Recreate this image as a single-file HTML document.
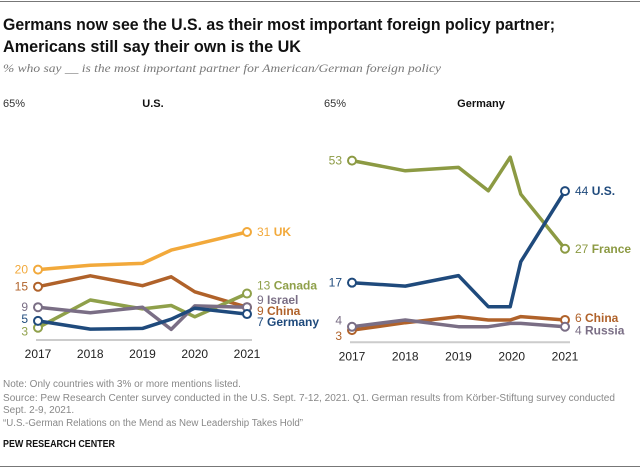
<!DOCTYPE html>
<html><head><meta charset="utf-8"><style>
html,body{margin:0;padding:0;background:#fff}
svg{display:block;font-family:"Liberation Sans",sans-serif}
</style></head><body>
<svg id="c" width="640" height="469" viewBox="0 0 640 469">
<line x1="0" y1="1.5" x2="640" y2="1.5" stroke="#777" stroke-width="1"/>
<text x="3" y="30" font-size="17" font-weight="bold" fill="#111" textLength="552" lengthAdjust="spacingAndGlyphs">Germans now see the U.S. as their most important foreign policy partner;</text>
<text x="3" y="52" font-size="17" font-weight="bold" fill="#111" textLength="298" lengthAdjust="spacingAndGlyphs">Americans still say their own is the UK</text>
<text x="3" y="72" font-size="12" font-style="italic" fill="#777" font-family="Liberation Serif, serif" textLength="438" lengthAdjust="spacingAndGlyphs">% who say __ is the most important partner for American/German foreign policy</text>
<text x="3" y="107" font-size="11" fill="#333">65%</text>
<text x="153" y="107" font-size="11" font-weight="bold" fill="#111" text-anchor="middle">U.S.</text>
<text x="324" y="107" font-size="11" fill="#333">65%</text>
<text x="481" y="107" font-size="11" font-weight="bold" fill="#111" text-anchor="middle">Germany</text>
<g id="left"></g><g id="right"></g>
<text x="3" y="387" font-size="10" fill="#888">Note: Only countries with 3% or more mentions listed.</text>
<text x="3" y="401" font-size="10" fill="#888" textLength="612" lengthAdjust="spacingAndGlyphs">Source: Pew Research Center survey conducted in the U.S. Sept. 7-12, 2021. Q1. German results from Körber-Stiftung survey conducted</text>
<text x="3" y="413" font-size="10" fill="#888">Sept. 2-9, 2021.</text>
<text x="3" y="426" font-size="10" fill="#888" textLength="300" lengthAdjust="spacingAndGlyphs">“U.S.-German Relations on the Mend as New Leadership Takes Hold”</text>
<text x="3" y="447" font-size="10" font-weight="bold" fill="#111" textLength="112" lengthAdjust="spacingAndGlyphs">PEW RESEARCH CENTER</text>
<line x1="0" y1="466.5" x2="640" y2="466.5" stroke="#777" stroke-width="1"/>
</svg>
<script>
const years=[2017,2018,2019,2020,2021];
const usX=[2017,2018,2019,2019.55,2020,2021];
const usUK=[20,21.3,21.8,25.7,27.3,31];
const usChina=[15,18.2,15.3,17.9,13.5,9];
const usCanada=[3,11.1,8.5,9.5,6.2,13];
const usIsrael=[9,7.4,9,2.5,9.4,9];
const usGermany=[5,2.6,2.8,5.5,8.7,7];
const deX=[2017,2018,2019,2019.56,2019.97,2020.17,2021];
const deFrance=[53,50,51,44.1,54,43.1,27];
const deUS=[17,16,19.1,9.9,9.9,23.2,44];
const deChina=[3,5.2,7,6,6,7,6];
const deRussia=[4,6,4,4,5,5,4];
const NS='http://www.w3.org/2000/svg';
function mk(tag,attrs,parent){const e=document.createElementNS(NS,tag);for(const k in attrs)e.setAttribute(k,attrs[k]);parent.appendChild(e);return e;}
function panel(g,x0,x1,y0,s,xs,series,baseX2){
  const X=y=>x0+(y-2017)*(x1-x0)/4, Y=v=>y0-v*s;
  const bl=mk('line',{x1:X(2017)-2,x2:baseX2,y1:y0+2,y2:y0+2,stroke:'#ccc','stroke-width':2},g);
  
  
  years.forEach(y=>{const t=mk('text',{x:X(y),y:y0+20,'font-size':12,fill:'#222','text-anchor':'middle'},g);t.textContent=y;
    
    });
  series.forEach(sr=>{
    const d=sr.v.map((v,i)=>(i?'L':'M')+X(xs[i]).toFixed(1)+' '+Y(v).toFixed(1)).join(' ');
    const p=mk('path',{d:d,fill:'none',stroke:sr.c,'stroke-width':3.5,'stroke-linejoin':'round'},g);
    
    
    [0,sr.v.length-1].forEach(i=>{
      const c=mk('circle',{cx:X(xs[i]),cy:Y(sr.v[i]),r:4,fill:'#fff',stroke:sr.c,'stroke-width':2},g);
      
      });
    const t1=mk('text',{x:X(2017)-10,y:Y(sr.v[0])+4+(sr.sdy||0),'font-size':12,fill:sr.c,'text-anchor':'end'},g);
    t1.textContent=Math.round(sr.v[0]);
    
    
    const t2=mk('text',{x:X(2021)+10,y:Y(sr.v[sr.v.length-1])+4+(sr.edy||0),'font-size':12,fill:sr.c},g);
    t2.textContent=Math.round(sr.v[sr.v.length-1])+' ';
    const b=mk('tspan',{'font-weight':'bold'},t2);b.textContent=sr.label;
    
    
  });
}
panel(document.getElementById('left'),38,247,338,3.42,usX,[
 {n:'uk',c:'#f2a93b',v:usUK,label:'UK'},
 {n:'china',c:'#b0622a',v:usChina,label:'China',edy:4},
 {n:'canada',c:'#8fa04a',v:usCanada,label:'Canada',sdy:4,edy:-8},
 {n:'israel',c:'#7a6e85',v:usIsrael,label:'Israel',edy:-7},
 {n:'germany',c:'#1f4a7c',v:usGermany,label:'Germany',sdy:-2,edy:8}
],252);
panel(document.getElementById('right'),352,565,340.3,3.39,deX,[
 {n:'france',c:'#8c9a43',v:deFrance,label:'France'},
 {n:'us',c:'#1f4a7c',v:deUS,label:'U.S.'},
 {n:'china',c:'#b0622a',v:deChina,label:'China',sdy:6,edy:-2},
 {n:'russia',c:'#7a6e85',v:deRussia,label:'Russia',sdy:-6,edy:4}
],570);
</script>
</body></html>
